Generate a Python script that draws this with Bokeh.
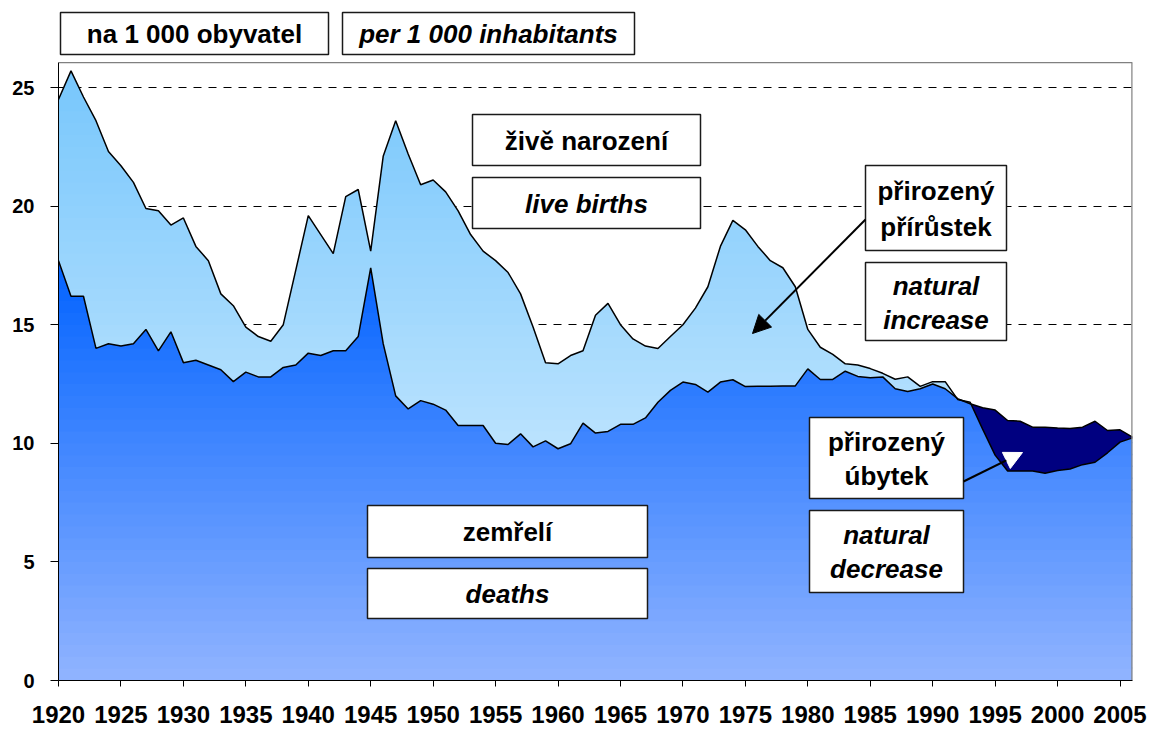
import numpy as np
from bokeh.plotting import figure
from bokeh.models import FixedTicker, Range1d, Arrow, NormalHead
from bokeh.core.properties import value
from bokeh.embed import file_html
from bokeh.resources import INLINE

# ---------------- data (per 1 000 inhabitants) ----------------
years = list(range(1920, 2007))
births = [24.5, 25.7, 24.6, 23.6, 22.3, 21.7, 21.0, 19.9, 19.8, 19.2,
          19.5, 18.3, 17.7, 16.3, 15.8, 14.9, 14.5, 14.3, 15.0, 17.3,
          19.6, 18.8, 18.0, 20.4, 20.7, 18.1, 22.1, 23.6, 22.2, 20.9,
          21.1, 20.6, 19.8, 18.8, 18.1, 17.7, 17.2, 16.3, 14.9, 13.4,
          13.35, 13.7, 13.9, 15.4, 15.9, 15.0, 14.4, 14.1, 14.0, 14.5,
          15.0, 15.7, 16.6, 18.3, 19.4, 19.0, 18.3, 17.7, 17.4, 16.6,
          14.8, 14.05, 13.75, 13.35, 13.3, 13.15, 12.95, 12.7, 12.8, 12.4,
          12.6, 12.6, 11.85, 11.73, 10.6, 9.5, 8.83, 8.83, 8.83, 8.74,
          8.85, 8.92, 9.1, 9.2, 9.6, 10.05, 10.23]
deaths = [17.7, 16.2, 16.2, 14.0, 14.2, 14.1, 14.2, 14.8, 13.9, 14.7,
          13.4, 13.5, 13.3, 13.1, 12.6, 13.0, 12.8, 12.8, 13.2, 13.3,
          13.8, 13.7, 13.9, 13.9, 14.5, 17.4, 14.2, 12.0, 11.45, 11.8,
          11.65, 11.4, 10.75, 10.75, 10.75, 10.0, 9.95, 10.4, 9.85, 10.1,
          9.77, 9.98, 10.85, 10.43, 10.5, 10.8, 10.8, 11.07, 11.73, 12.23,
          12.58, 12.48, 12.16, 12.58, 12.68, 12.39, 12.4, 12.4, 12.42, 12.42,
          13.14, 12.69, 12.69, 13.04, 12.82, 12.76, 12.8, 12.3, 12.18, 12.3,
          12.5, 12.3, 11.88, 11.67, 11.5, 11.4, 10.96, 10.93, 10.68, 10.68,
          10.64, 10.62, 10.68, 10.93, 10.54, 10.57, 10.26]
x_ticks = list(range(1920, 2006, 5))
y_ticks = [0, 5, 10, 15, 20, 25]
grid_ticks = [5, 10, 15, 20, 25]

FONT_NAME = "Liberation Sans"
FONT = value(FONT_NAME)

# ---------------- figure ----------------
# frame spans page y 0..680 so the unit boxes above the plot area can be drawn;
# the visible plot area (gray border) ends at PLOT_TOP
W, H = 1150, 729
X0, X1 = 1920, 2006
Y0, Y1 = 0, 680 / 23.72
PLOT_TOP = 26.05

p = figure(width=W, height=H, output_backend="svg", toolbar_location=None,
           x_range=Range1d(X0, X1), y_range=Range1d(Y0, Y1),
           min_border_left=58, min_border_right=18,
           min_border_top=0, min_border_bottom=49)
p.outline_line_color = None
p.background_fill_color = "white"
p.border_fill_color = "white"

# page-pixel helpers for annotation placement (frame: x 58..1132, y 0..680)
def PX(px):
    return X0 + (px - 58) * (X1 - X0) / 1074.0

def PY(py):
    return (680 - py) / 23.72

# ---------------- gradient areas ----------------
xs = np.array(years, float)
b = np.array(births, float)
d = np.array(deaths, float)
h = 0.5
eps = 0.06
levels = np.concatenate([np.arange(0, 27 + h, h), np.arange(0, 27 + h, h) + eps])
pts = [xs]
for f in (b, d):
    f0, f1 = f[:-1], f[1:]
    for c in levels:
        m = (f0 - c) * (f1 - c) < 0
        t = (c - f0[m]) / (f1[m] - f0[m])
        pts.append(xs[:-1][m] + t)
g = b - d
m = g[:-1] * g[1:] < 0
t = g[:-1][m] / (g[:-1][m] - g[1:][m])
pts.append(xs[:-1][m] + t)
xg = np.unique(np.concatenate(pts))
bg = np.interp(xg, xs, b)
dg = np.interp(xg, xs, d)
mg = np.minimum(bg, dg)


def lerp(c0, c1, tt):
    tt = min(max(tt, 0.0), 1.0)
    return "#%02x%02x%02x" % tuple(int(round(c0[i] + (c1[i] - c0[i]) * tt)) for i in range(3))

D_BOT, D_TOP, D_MAX = (145, 180, 255), (0, 98, 255), 17.8
B_BOT, B_TOP, B_MAX = (228, 244, 255), (118, 198, 252), 26.0

nb = int(np.ceil(27 / h))
for k in range(nb):
    a = k * h
    top = a + h + eps
    y2 = np.clip(mg, a, top)
    if np.any(y2 > a):
        col = lerp(D_BOT, D_TOP, (a + h / 2) / D_MAX)
        p.varea(x=xg, y1=np.full_like(xg, a), y2=y2, fill_color=col, fill_alpha=1.0)
for k in range(nb):
    a = k * h
    top = a + h + eps
    y1 = np.clip(mg, a, top)
    y2 = np.clip(bg, a, top)
    if np.any(y2 > y1):
        col = lerp(B_BOT, B_TOP, (a + h / 2) / B_MAX)
        p.varea(x=xg, y1=y1, y2=y2, fill_color=col, fill_alpha=1.0)

# natural decrease (deaths above births)
p.varea(x=xg, y1=mg, y2=np.maximum(dg, mg), fill_color="#000080")

# outlines
p.line(years, births, line_color="black", line_width=1.5)
p.line(years, deaths, line_color="black", line_width=1.5)

# plot-area border (top and right)
p.line([X0, X1], [PLOT_TOP, PLOT_TOP], line_color="#808080", line_width=1.2)
p.line([X1, X1], [0, PLOT_TOP], line_color="#808080", line_width=2.4)

# ---------------- axes ----------------
p.xaxis.ticker = FixedTicker(ticks=x_ticks)
p.yaxis.ticker = FixedTicker(ticks=y_ticks)
p.yaxis.bounds = (0, PLOT_TOP)
p.xgrid.visible = False
p.ygrid.ticker = FixedTicker(ticks=grid_ticks)
p.ygrid.grid_line_color = "black"
p.ygrid.grid_line_dash = "8 7"
p.ygrid.grid_line_width = 1

for ax in (p.xaxis[0], p.yaxis[0]):
    ax.axis_line_color = "black"
    ax.axis_line_width = 1
    ax.major_tick_line_color = "black"
    ax.major_tick_in = 0
    ax.minor_tick_line_color = None
    ax.major_label_text_font = FONT_NAME
    ax.major_label_text_font_style = "bold"
    ax.major_label_text_color = "black"

p.xaxis.major_tick_out = 6
p.xaxis.major_label_text_font_size = "24px"
p.xaxis.major_label_standoff = 19
p.yaxis.major_tick_out = 8
p.yaxis.major_label_text_font_size = "20px"
p.yaxis.major_label_standoff = 16

# ---------------- annotation boxes (page px) ----------------
boxes = [
    (60, 328, 12, 54), (342, 634, 12, 54),
    (472, 700, 114, 165), (472, 700, 177, 228),
    (865, 1006, 165, 250), (865, 1006, 262, 340),
    (809, 963, 417, 498), (809, 963, 510, 592),
    (367, 647, 505, 557), (367, 647, 568, 618),
]
p.quad(left=[PX(bx[0]) for bx in boxes], right=[PX(bx[1]) for bx in boxes],
       top=[PY(bx[2]) for bx in boxes], bottom=[PY(bx[3]) for bx in boxes],
       fill_color="white", line_color="#1a1a1a", line_width=1.5)

texts_cz = [("na 1 000 obyvatel", 194, 33), ("živě narození", 586, 140),
            ("přirozený", 935.5, 190), ("přírůstek", 935.5, 226),
            ("přirozený", 886, 441), ("úbytek", 886, 475),
            ("zemřelí", 507, 531)]
texts_en = [("per 1 000 inhabitants", 488, 33), ("live births", 586, 203),
            ("natural", 935.5, 285), ("increase", 935.5, 319),
            ("natural", 886, 534), ("decrease", 886, 568),
            ("deaths", 507, 593)]
for items, style in ((texts_cz, "bold"), (texts_en, "bold italic")):
    p.text(x=[PX(t_[1]) for t_ in items], y=[PY(t_[2]) for t_ in items],
           text=[t_[0] for t_ in items], text_align="center", text_baseline="middle",
           text_font=FONT, text_font_style=style, text_font_size="26px", text_color="black")

# ---------------- arrows ----------------
p.add_layout(Arrow(end=NormalHead(size=18, fill_color="black", line_color="black"),
                   x_start=PX(865), y_start=PY(219), x_end=PX(752), y_end=PY(333),
                   line_color="black", line_width=2))
p.add_layout(Arrow(end=NormalHead(size=18, fill_color="white", line_color="white"),
                   x_start=PX(963), y_start=PY(481), x_end=PX(1022), y_end=PY(452),
                   line_color="black", line_width=2))

open("out.html", "w").write(file_html(p, INLINE))
